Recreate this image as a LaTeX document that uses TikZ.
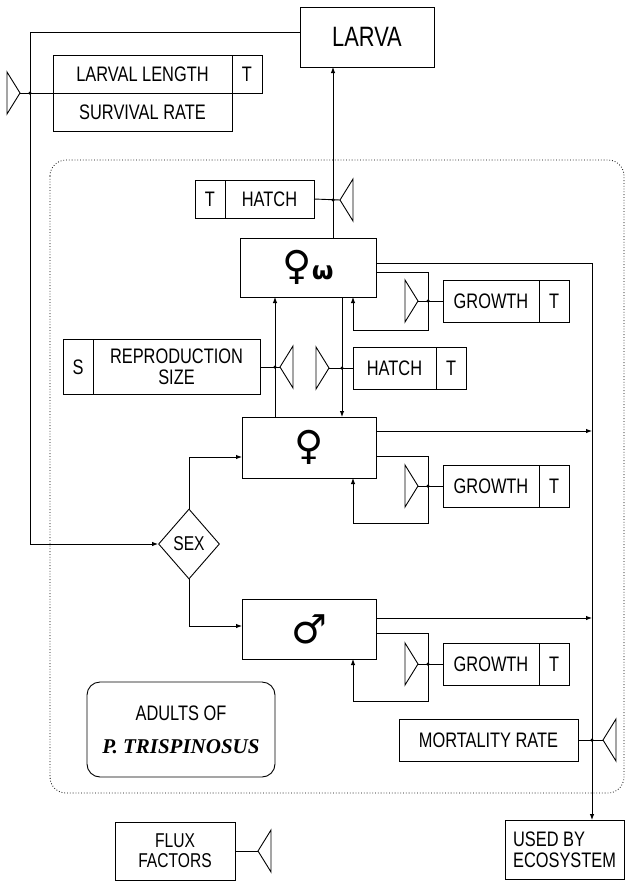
\documentclass[tikz,border=0pt]{standalone}
\usepackage{fontspec}
\setmainfont{Liberation Sans}[FakeStretch=0.78]
\newfontfamily\signfont{DejaVu Sans}
\newfontfamily\speciesfont{Liberation Serif}
\newcommand\boxfont{\fontsize{21}{21}\selectfont}
\usetikzlibrary{arrows.meta,positioning,shapes.geometric}

\begin{document}
\begin{tikzpicture}[x=1pt, y=-1pt, line width=0.9pt,
  box/.style={draw, inner sep=0pt, outer sep=0pt, align=center, font=\boxfont},
  tbox/.style={box, minimum width=30pt},
  flow/.style={-{Latex[length=6pt,width=4.5pt]}},
  jdot/.style={circle, fill, inner sep=0pt, minimum size=3.5pt}]

\useasboundingbox (0,0) rectangle (625,881);

% system boundary
\draw[dotted, line width=0.8pt, rounded corners=16pt] (50,160) rectangle (624,793);

% larva and its flux factors
\node[box, minimum width=134pt, minimum height=60pt, font=\fontsize{28}{28}\selectfont] (larva) at (367,37) {LARVA};
\node[box, minimum width=179pt, minimum height=38pt] (larvlen) at (142.5,74) {LARVAL LENGTH};
\node[tbox, minimum height=38pt, right=0pt of larvlen] (larvT) {T};
\node[box, minimum width=179pt, minimum height=38pt, below=0pt of larvlen] (surv) {SURVIVAL RATE};

\node[box, minimum width=89pt, minimum height=38pt] (hatch1) at (269.5,199) {HATCH};
\node[tbox, minimum height=38pt, left=0pt of hatch1] (hatch1T) {T};

% adult classes
\node[box, minimum width=136pt, minimum height=59pt] (fw) at (308,267.5)
  {{\signfont\fontsize{40}{40}\selectfont ♀}{\signfont\bfseries\fontsize{25}{25}\selectfont ω}};
\node[box, minimum width=134pt, minimum height=61pt] (fem) at (309,447.5)
  {\signfont\fontsize{40}{40}\selectfont ♀};
\node[box, minimum width=134pt, minimum height=60pt] (male) at (309,629)
  {\signfont\fontsize{40}{40}\selectfont ♂};
\node[draw, shape=diamond, inner sep=0pt, minimum width=61pt, minimum height=70pt,
  font=\fontsize{20}{20}\selectfont] (sex) at (189,544) {SEX};

\node[box, minimum width=96pt, minimum height=42pt] (grow1) at (491,301) {GROWTH};
\node[tbox, minimum height=42pt, right=0pt of grow1] (grow1T) {T};
\node[box, minimum width=96pt, minimum height=42pt] (grow2) at (491,486) {GROWTH};
\node[tbox, minimum height=42pt, right=0pt of grow2] (grow2T) {T};
\node[box, minimum width=96pt, minimum height=42pt] (grow3) at (491,664) {GROWTH};
\node[tbox, minimum height=42pt, right=0pt of grow3] (grow3T) {T};

\node[box, minimum width=167pt, minimum height=55pt] (repr) at (176.5,367) {REPRODUCTION\\SIZE};
\node[tbox, minimum height=55pt, left=0pt of repr] (reprS) {S};
\node[box, minimum width=83pt, minimum height=42pt] (hatch2) at (394.5,368) {HATCH};
\node[tbox, minimum height=42pt, right=0pt of hatch2] (hatch2T) {T};

\node[box, minimum width=179pt, minimum height=42pt] (mort) at (488.5,740) {MORTALITY RATE};
\node[box, rounded corners=13pt, minimum width=188pt, minimum height=95pt,
  font=\fontsize{21}{33}\selectfont] (adults) at (181,729.5)
  {ADULTS OF\\{\speciesfont\bfseries\itshape P.\ TRISPINOSUS}};

\node[box, minimum width=120pt, minimum height=58pt, font=\fontsize{20}{20}\selectfont] (flux) at (175,851) {FLUX\\FACTORS};
\node[box, minimum width=119pt, minimum height=59pt, align=left] (eco) at (564.5,849.5) {USED BY\\ECOSYSTEM};

% valves
\coordinate (vL) at (20,93);
\coordinate (vH1) at (340,200);
\coordinate (vG1) at (418,301);
\coordinate (vR) at (280,367);
\coordinate (vH2) at (329,368);
\coordinate (vG2) at (418,486);
\coordinate (vG3) at (418,664);
\coordinate (vM) at (603,740);
\coordinate (vF) at (258,851);
\coordinate (sink) at (592,820);

\foreach \v in {vL,vH2,vG1,vG2,vG3}
  \draw (\v) -- ++(-13,-21) -- ++(0,42) -- cycle;
\foreach \v in {vH1,vR,vM,vF}
  \draw (\v) -- ++(13,-21) -- ++(0,42) -- cycle;

% flows
\draw[flow] ([yshift=5pt]larva.west) -- ++(-270,0) |- (sex.west);
\draw[flow] (333,0 |- fw.north) -- (333,0 |- larva.south);
\draw[flow] ([xshift=34pt]fw.south) -- ([xshift=33pt]fem.north);
\draw[flow] ([xshift=-34pt]fem.north) -- ([xshift=-33pt]fw.south);
\draw[flow] (sex.north) |- ([yshift=-9.5pt]fem.west);
\draw[flow] (sex.south) |- ([yshift=3pt]male.west);

\draw[flow] ([yshift=4.5pt]fw.east) -| (sink);
\draw[flow] ([yshift=16.5pt]fem.east) -- (592,431);
\draw[flow] ([yshift=11pt]male.east) -- (592,618);

\draw[flow] ([yshift=-4.5pt]fw.east) -| (428,330) -| ([xshift=45pt]fw.south);
\draw[flow] ([yshift=-8.5pt]fem.east) -| (428,523) -| ([xshift=44pt]fem.south);
\draw[flow] ([yshift=-4pt]male.east) -| (428,701) -| ([xshift=44pt]male.south);

% information links
\draw (vL) -- (larvlen.south west);
\draw (hatch1.east) -- (vH1);
\draw (repr.east) -- (vR);
\draw (vH2) -- (hatch2.west);
\draw (vG1) -- (grow1.west);
\draw (vG2) -- (grow2.west);
\draw (vG3) -- (grow3.west);
\draw (mort.east) -- (vM);
\draw (flux.east) -- (vF);

\node[jdot] (d1) at (30,93) {};
\node[jdot] (d2) at (333,200) {};
\node[jdot] (d3) at (428,301) {};
\node[jdot] (d4) at (275,367) {};
\node[jdot] (d5) at (342,368) {};
\node[jdot] (d6) at (428,486) {};
\node[jdot] (d7) at (428,664) {};
\node[jdot] (d8) at (592,740) {};

\end{tikzpicture}
\end{document}
